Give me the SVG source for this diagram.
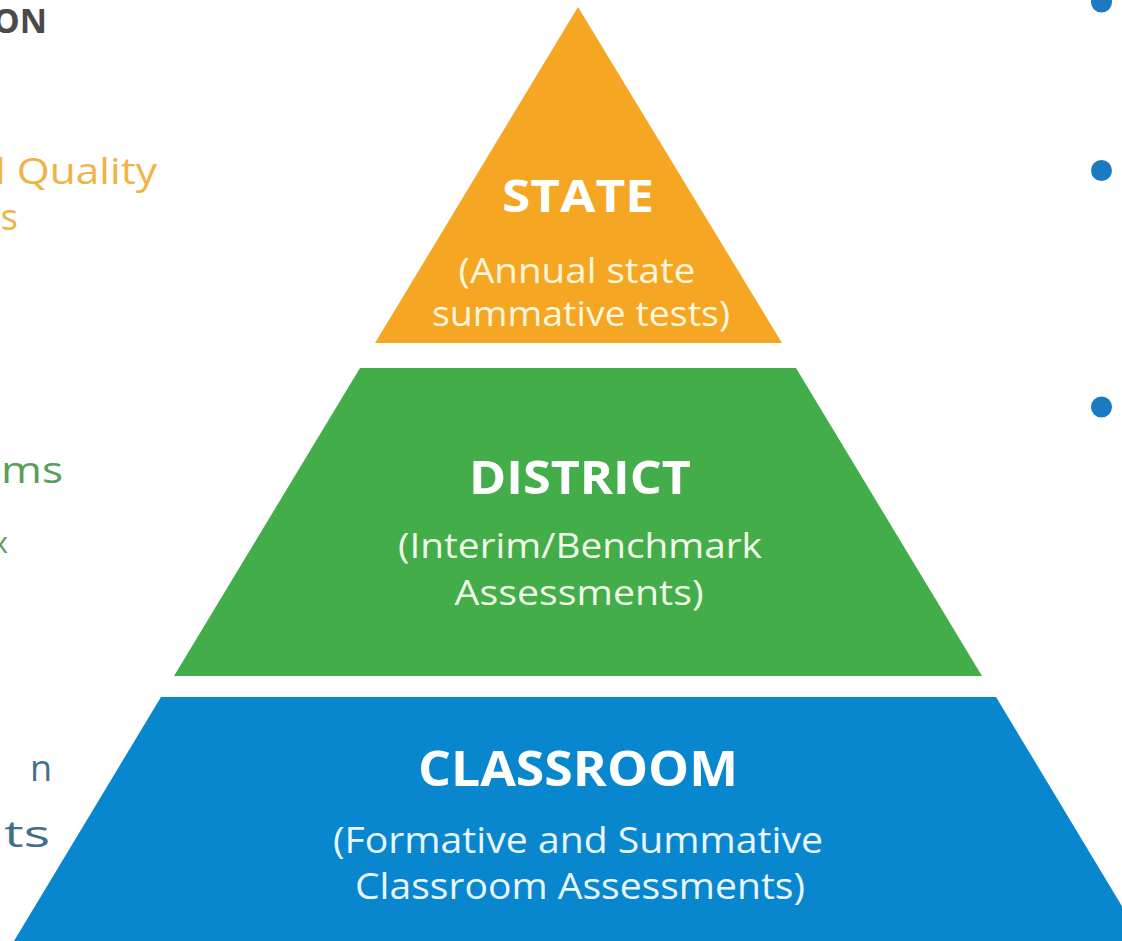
<svg xmlns="http://www.w3.org/2000/svg" width="1122" height="941" viewBox="0 0 1122 941">
<style>
  text { font-family: "Open Sans", "Noto Sans", "DejaVu Sans", sans-serif; }
  .title { font-weight: 700; fill: #ffffff; text-anchor: middle; }
  .sub { font-weight: 400; text-anchor: middle; }
  .side { font-weight: 400; text-anchor: end; }
  .head { font-weight: 700; text-anchor: end; fill: #4a4a4a; }
  .bullet { fill: #1a7bc2; }
</style>
<rect x="0" y="0" width="1122" height="941" fill="#ffffff"/>
<g id="connectors"/>
<g id="left-fragments">
  <text class="head" x="47" y="33" font-size="34" textLength="54" lengthAdjust="spacingAndGlyphs">ON</text>
  <text class="side" x="157" y="184" font-size="36" fill="#efb347" textLength="162" lengthAdjust="spacingAndGlyphs">l Quality</text>
  <text class="side" x="18" y="230" font-size="36" fill="#efb347">s</text>
  <text class="side" x="63" y="483" font-size="36" fill="#5a9e5c" textLength="62" lengthAdjust="spacingAndGlyphs">ms</text>
  <text class="side" x="8" y="553" font-size="30" fill="#5a9e5c">x</text>
  <text class="side" x="52" y="781" font-size="36" fill="#3f6f8a">n</text>
  <text class="side" x="50" y="847" font-size="36" fill="#3f6f8a" textLength="46" lengthAdjust="spacingAndGlyphs">ts</text>
</g>
<g id="state">
  <polygon points="578,7 375,343 782,343" fill="#f5a623"/>
  <text class="title" x="578" y="212" font-size="44" textLength="152" lengthAdjust="spacingAndGlyphs">STATE</text>
  <text class="sub" x="577" y="283" font-size="34" fill="#fff6dc" textLength="237" lengthAdjust="spacingAndGlyphs">(Annual state</text>
  <text class="sub" x="581" y="326" font-size="34" fill="#fff6dc" textLength="298" lengthAdjust="spacingAndGlyphs">summative tests)</text>
</g>
<g id="district">
  <polygon points="360,368 796,368 982,676 174,676" fill="#43ad49"/>
  <text class="title" x="580" y="494" font-size="46" textLength="222" lengthAdjust="spacingAndGlyphs">DISTRICT</text>
  <text class="sub" x="580" y="558" font-size="35" fill="#effbe8" textLength="364" lengthAdjust="spacingAndGlyphs">(Interim/Benchmark</text>
  <text class="sub" x="579" y="605" font-size="35" fill="#effbe8" textLength="249" lengthAdjust="spacingAndGlyphs">Assessments)</text>
</g>
<g id="classroom">
  <polygon points="161,697 996,697 1143,941 14,941" fill="#0887cf"/>
  <text class="title" x="578" y="786" font-size="48" textLength="320" lengthAdjust="spacingAndGlyphs">CLASSROOM</text>
  <text class="sub" x="578" y="853" font-size="36" fill="#eaf6ff" textLength="490" lengthAdjust="spacingAndGlyphs">(Formative and Summative</text>
  <text class="sub" x="580" y="899" font-size="36" fill="#eaf6ff" textLength="450" lengthAdjust="spacingAndGlyphs">Classroom Assessments)</text>
</g>
<g id="bullets">
  <circle class="bullet" cx="1101.5" cy="2" r="10.5"/>
  <circle class="bullet" cx="1101.5" cy="170.5" r="10.5"/>
  <circle class="bullet" cx="1101.5" cy="407" r="10.5"/>
</g>
</svg>
